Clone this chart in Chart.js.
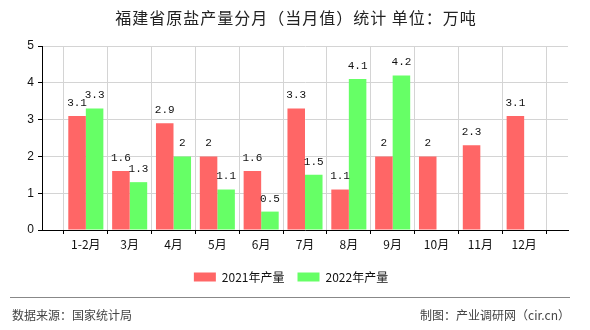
<!DOCTYPE html>
<html>
<head>
<meta charset="utf-8">
<script src="https://cdn.jsdelivr.net/npm/chart.js@4"></script>
<style>
  html, body { margin:0; padding:0; background:#fff; }
  #wrap { position:relative; width:590px; height:330px; overflow:hidden; }
  #c { position:absolute; left:0; top:0; }
  #title { position:absolute; left:0; width:592px; top:7px; text-align:center;
    font:16px "Noto Sans CJK SC", sans-serif; color:#222; letter-spacing:1px; line-height:20px; }
  #foot { position:absolute; left:10px; width:560px; top:297px; border-top:1px solid #888; height:32px; }
  #src { position:absolute; left:2px; top:9px; font:12px "Noto Sans CJK SC", sans-serif; color:#444; line-height:16px; }
  #mk { position:absolute; right:0px; top:9px; font:12px "Noto Sans CJK SC", sans-serif; color:#444; line-height:16px; }
</style>
</head>
<body>
<div id="wrap">
  <canvas id="c" width="590" height="330"></canvas>
  <div id="title">福建省原盐产量分月（当月值）统计 单位：万吨</div>
  <div id="foot"><span id="src">数据来源：国家统计局</span><span id="mk">制图：产业调研网（cir.cn）</span></div>
</div>
<script>
const categories = ['1-2月','3月','4月','5月','6月','7月','8月','9月','10月','11月','12月'];
const series2021 = [3.1, 1.6, 2.9, 2, 1.6, 3.3, 1.1, 2, 2, 2.3, 3.1];
const series2022 = [3.3, 1.3, 2, 1.1, 0.5, 1.5, 4.1, 4.2, null, null, null];
const seriesNames = ['2021年产量', '2022年产量'];
const yTicks = [0, 1, 2, 3, 4, 5];

const labels = [''].concat(categories, ['']);
const pad = arr => [null].concat(arr, [null]);

const valueLabels = {
  id: 'valueLabels',
  afterDatasetsDraw(chart) {
    const ctx = chart.ctx;
    ctx.save();
    ctx.font = '11px "Liberation Mono", monospace';
    ctx.fillStyle = '#111';
    ctx.textAlign = 'center';
    ctx.textBaseline = 'middle';
    chart.data.datasets.forEach((ds, di) => {
      const meta = chart.getDatasetMeta(di);
      meta.data.forEach((el, i) => {
        const v = ds.data[i];
        if (v === null || v === undefined) return;
        ctx.fillText(String(v), el.x, el.y - 13);
      });
    });
    ctx.restore();
  }
};

new Chart(document.getElementById('c'), {
  type: 'bar',
  data: {
    labels: labels,
    datasets: [
      { label: seriesNames[0], data: pad(series2021), backgroundColor: '#ff6666', borderWidth: 0,
        categoryPercentage: 0.8, barPercentage: 1.0 },
      { label: seriesNames[1], data: pad(series2022), backgroundColor: '#66ff66', borderWidth: 0,
        categoryPercentage: 0.8, barPercentage: 1.0 }
    ]
  },
  options: {
    responsive: false,
    animation: false,
    devicePixelRatio: 1,
    layout: { padding: { left: 14, right: 22, top: 46, bottom: 37 } },
    plugins: {
      title: { display: false },
      tooltip: { enabled: false },
      legend: {
        display: true,
        position: 'bottom',
        labels: {
          boxWidth: 22, boxHeight: 9, padding: 13,
          color: '#111',
          font: { size: 12, family: '"Noto Sans CJK SC", sans-serif' }
        }
      }
    },
    scales: {
      x: {
        type: 'category',
        offset: false,
        grid: { color: '#d4d4d4', tickColor: '#000', tickLength: 4, drawTicks: true },
        border: { color: '#000', width: 1 },
        ticks: { autoSkip: false, maxRotation: 0, padding: 3, color: '#111',
          font: { size: 12, family: '"Noto Sans CJK SC", sans-serif' } },
        afterFit(s) { s.height = 28; }
      },
      y: {
        min: yTicks[0], max: yTicks[yTicks.length - 1],
        grid: { color: '#d4d4d4', tickColor: '#000', tickLength: 4 },
        border: { color: '#000', width: 1 },
        ticks: { stepSize: 1, padding: 4, color: '#111',
          font: { size: 12, family: '"Liberation Sans", sans-serif' } },
        afterFit(s) { s.width = 28; }
      }
    }
  },
  plugins: [valueLabels]
});
</script>
</body>
</html>
